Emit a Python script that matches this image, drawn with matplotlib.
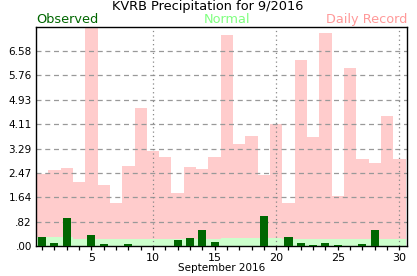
import numpy as np
import matplotlib
matplotlib.use('Agg')
import matplotlib.pyplot as plt

# Daily precipitation for KVRB, September 2016 (inches)
days = np.arange(1, 31)
record = [2.44, 2.55, 2.62, 2.15, 7.60, 2.06, 1.46, 2.69, 4.64, 3.19,
          2.99, 1.78, 2.66, 2.59, 2.99, 7.13, 3.43, 3.70, 2.39, 4.11,
          1.46, 6.29, 3.67, 7.19, 1.68, 6.02, 2.92, 2.79, 4.40, 2.92]
normal = [0.29, 0.29, 0.29, 0.24, 0.24, 0.24, 0.24, 0.24, 0.24, 0.24,
          0.24, 0.24, 0.24, 0.24, 0.24, 0.26, 0.26, 0.27, 0.27, 0.27,
          0.24, 0.24, 0.24, 0.24, 0.24, 0.24, 0.24, 0.24, 0.24, 0.24]
observed = [0.31, 0.10, 0.94, 0.00, 0.37, 0.07, 0.00, 0.07, 0.00, 0.00,
            0.00, 0.20, 0.27, 0.54, 0.13, 0.00, 0.00, 0.00, 1.01, 0.00,
            0.30, 0.10, 0.03, 0.10, 0.03, 0.00, 0.07, 0.54, 0.00, 0.00]
y_max = 7.40

fig = plt.figure(figsize=(4.17, 2.76), dpi=100)
ax = fig.add_axes([0.0863, 0.1087, 0.8897, 0.7946])

ax.bar(days, record, width=1.0, color='#ffcccc', zorder=1)
ax.bar(days, normal, width=1.0, color='#ccffcc', zorder=1.5)
ax.bar(days, observed, width=0.65, color='#006600', zorder=3)

# grid
yticks = [y_max * i / 9 for i in range(9)]
for y in yticks[1:]:
    ax.axhline(y, color='#999999', linestyle=(0, (4, 3)), linewidth=0.9, zorder=2)
for x in [10, 20, 30]:
    ax.axvline(x, color='#888888', linestyle=(0, (1, 2.5)), linewidth=0.9, zorder=2)


def fmt(v):
    s = '%.2f' % v
    return s[1:] if s.startswith('0') else s


ax.set_xlim(0.5, 30.62)
ax.set_ylim(0, y_max)
ax.set_yticks(yticks)
ax.set_yticklabels([fmt(y) for y in yticks], fontsize=7.5)
ax.tick_params(axis='y', length=0, pad=3)
ax.set_xticks(days, minor=True)
ax.set_xticks([5, 10, 15, 20, 25, 30])
ax.set_xticklabels(['5', '10', '15', '20', '25', '30'], fontsize=8)
ax.tick_params(axis='x', which='both', direction='out', length=3, width=0.9, pad=2)
ax.set_xlabel('September 2016', fontsize=7.5, labelpad=0)

for s in ax.spines.values():
    s.set_color('black')
    s.set_linewidth(1)

fig.text(0.4976, 0.977, 'KVRB Precipitation for 9/2016', ha='center', va='center', fontsize=9.3)
fig.text(0.0863, 0.930, 'Observed', ha='left', va='center', fontsize=9.3, color='#006600')
fig.text(0.545, 0.930, 'Normal', ha='center', va='center', fontsize=9.3, color='#80ff80')
fig.text(0.976, 0.930, 'Daily Record', ha='right', va='center', fontsize=9.3, color='#ff9999')

plt.savefig('out.png', dpi=100)
